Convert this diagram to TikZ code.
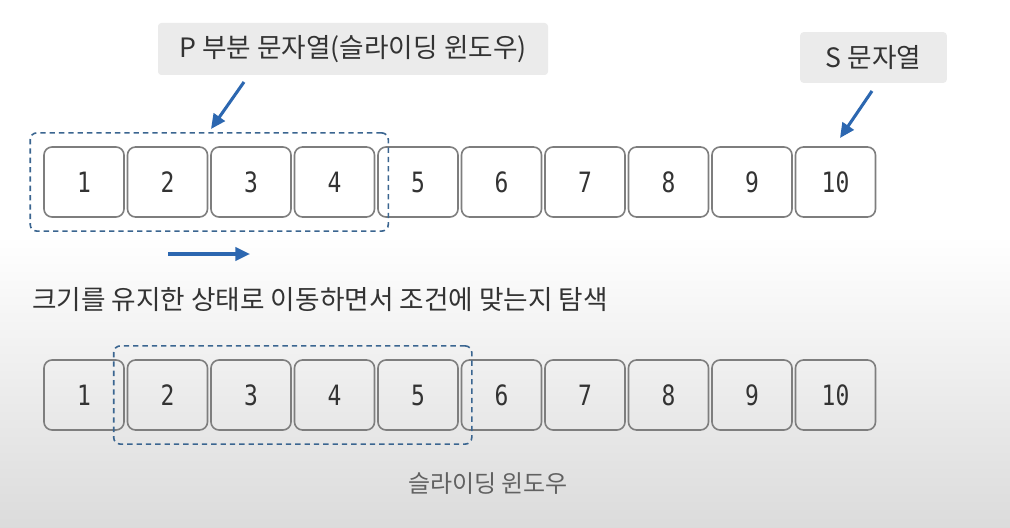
\documentclass[tikz,border=0pt]{standalone}
\usepackage{fontspec}
\usepackage{graphicx}
\newfontfamily\kr{Noto Sans CJK KR}
\newfontfamily\digits{DejaVu Sans Mono}
\usetikzlibrary{fit,arrows.meta}
\definecolor{boxline}{HTML}{7E7E7E}
\definecolor{winline}{HTML}{3A6590}
\definecolor{arrblue}{HTML}{2C67B0}
\definecolor{labelfill}{HTML}{EBEBEB}
\definecolor{txt}{HTML}{333333}
\tikzset{
  cell/.style={draw=boxline, line width=1.2pt, rounded corners=6pt, minimum width=60pt, minimum height=52.5pt, inner sep=0pt, font=\digits\fontsize{21pt}{23pt}\selectfont, text=txt},
  topcell/.style={cell, fill=white},
  window/.style={draw=winline, line width=1.2pt, dashed, dash pattern=on 4pt off 3pt, rounded corners=5pt, inner xsep=9.75pt, inner ysep=10pt},
  tag/.style={fill=labelfill, rounded corners=2.5pt, inner sep=0pt, text=txt, font=\kr\fontsize{20pt}{22pt}\selectfont},
  arr/.style={draw=arrblue, line width=2.3pt, -{Triangle[length=11pt,width=10pt]}},
}
\begin{document}
\begin{tikzpicture}[x=0.75pt,y=-0.75pt]
\useasboundingbox (0,0) rectangle (1010,528);
\shade[top color=white, bottom color=white] (0,0) rectangle (1010,235);
\shade[top color=white, bottom color=black!14] (0,235) rectangle (1010,528);
% top row
\foreach \i in {1,...,10}{
  \node[topcell] (t\i) at ({84+(\i-1)*83.5},182) {\scalebox{0.82}[1]{\i}};
}
% bottom row
\foreach \i in {1,...,10}{
  \node[cell] (b\i) at ({84+(\i-1)*83.5},395) {\scalebox{0.82}[1]{\i}};
}
\node[window, fit=(t1)(t4)] (w1) {};
\node[window, fit=(b2)(b5)] (w2) {};
% labels
\node[tag, minimum width=292.5pt, minimum height=39pt] (plabel) at (353,49) {P 부분 문자열(슬라이딩 윈도우)};
\node[tag, minimum width=110pt, minimum height=38pt] (slabel) at (873.5,57.5) {S 문자열};
\coordinate (pa) at (244,82);
\coordinate (pb) at (211,129);
\draw[arr] (pa) -- (pb);
\coordinate (sa) at (872,91);
\coordinate (sb) at (840,138);
\draw[arr] (sa) -- (sb);
\coordinate (ma) at (168,254);
\coordinate (mb) at (250,254);
\draw[arr] (ma) -- (mb);
\node[anchor=west, inner sep=0pt, text=txt, font=\kr\fontsize{20pt}{22pt}\selectfont] (maintext) at (32,300) {크기를 유지한 상태로 이동하면서 조건에 맞는지 탐색};
\node[inner sep=0pt, text=black!62, font=\kr\fontsize{18pt}{20pt}\selectfont] (wlabel) at (488,484) {슬라이딩 윈도우};
\end{tikzpicture}
\end{document}
